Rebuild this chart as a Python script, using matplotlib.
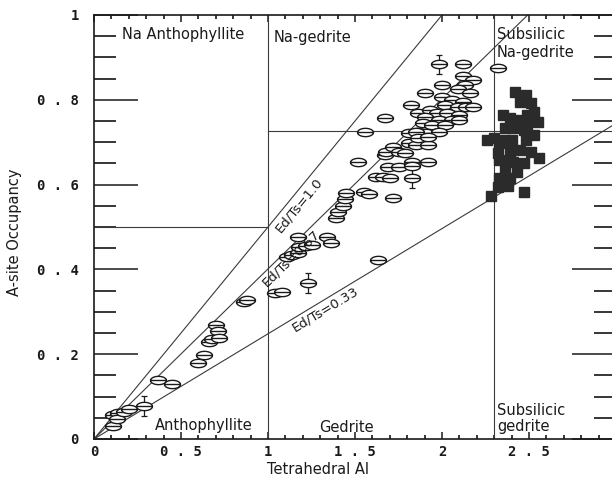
import numpy as np
import matplotlib
matplotlib.use("Agg")
import matplotlib.pyplot as plt
from matplotlib.path import Path
from matplotlib.ticker import MultipleLocator, FixedLocator

# A-site occupancy vs tetrahedral Al
open_x = [0.11, 0.11, 0.14, 0.13, 0.17, 0.20, 0.29, 0.37, 0.45, 0.60, 0.63, 0.66, 0.68, 0.70, 0.71, 0.72,
          0.86, 0.88, 1.04, 1.08, 1.23, 1.63,
          1.11, 1.14, 1.17, 1.17, 1.18, 1.22, 1.25, 1.34, 1.36, 1.39, 1.40, 1.43, 1.44, 1.45,
          1.52, 1.55, 1.58, 1.62, 1.66, 1.70, 1.72, 1.83, 1.67, 1.68, 1.72, 1.75, 1.79,
          1.69, 1.75, 1.83, 1.83, 1.92, 1.81, 1.85, 1.92, 1.81, 1.86, 1.91, 1.56, 1.67,
          1.98, 2.12, 2.12, 2.18, 2.00, 2.13, 2.09, 2.16, 1.90, 2.00, 1.82, 2.06, 2.12, 2.02,
          2.09, 2.14, 2.18, 1.86, 1.93, 1.97, 2.03, 2.10, 1.90, 1.98, 2.06, 2.10, 1.89, 1.94,
          2.02, 1.85, 1.98, 1.86, 1.92, 2.32]
open_y = [0.031, 0.057, 0.061, 0.047, 0.064, 0.071, 0.078, 0.139, 0.130, 0.179, 0.198, 0.229, 0.236, 0.269, 0.255, 0.238,
          0.323, 0.328, 0.344, 0.347, 0.368, 0.422,
          0.429, 0.434, 0.439, 0.476, 0.453, 0.455, 0.458, 0.476, 0.462, 0.521, 0.535, 0.550, 0.566, 0.580,
          0.653, 0.583, 0.578, 0.618, 0.618, 0.616, 0.568, 0.616, 0.670, 0.677, 0.689, 0.677, 0.675,
          0.642, 0.642, 0.653, 0.644, 0.653, 0.698, 0.693, 0.693, 0.722, 0.724, 0.722, 0.724, 0.757,
          0.884, 0.884, 0.856, 0.847, 0.835, 0.835, 0.825, 0.816, 0.816, 0.807, 0.788, 0.800, 0.795, 0.788,
          0.783, 0.783, 0.783, 0.769, 0.776, 0.769, 0.769, 0.764, 0.759, 0.752, 0.752, 0.752, 0.745, 0.741,
          0.741, 0.724, 0.724, 0.710, 0.712, 0.875]

# the few analyses drawn with a vertical error bar
err_x = [0.29, 1.23, 1.98, 1.83]
err_y = [0.078, 0.368, 0.884, 0.616]
err_dy = [0.024, 0.024, 0.022, 0.025]

# filled squares (subsilicic gedrites)
sq_x = [2.42, 2.48, 2.45, 2.51, 2.53, 2.49, 2.55, 2.49, 2.35, 2.39, 2.36, 2.42, 2.47, 2.30, 2.26, 2.33,
        2.40, 2.48, 2.53, 2.39, 2.45, 2.51, 2.56, 2.33, 2.41, 2.47, 2.36, 2.43, 2.33, 2.39, 2.32, 2.38,
        2.28, 2.47, 2.32, 2.36, 2.45, 2.39]
sq_y = [0.818, 0.811, 0.795, 0.792, 0.771, 0.764, 0.748, 0.741, 0.764, 0.757, 0.733, 0.733, 0.729, 0.710, 0.705, 0.698,
        0.705, 0.705, 0.717, 0.682, 0.682, 0.677, 0.663, 0.658, 0.653, 0.651, 0.634, 0.630, 0.616, 0.616, 0.594, 0.597,
        0.573, 0.583, 0.675, 0.705, 0.752, 0.658]

# Ed/Ts reference lines through the origin
ratios = [1.0, 0.67, 0.33]
ratio_labels = ["Ed/Ts=1.0", "Ed/Ts=0.67", "Ed/Ts=0.33"]
label_x = [1.18, 1.13, 1.33]
label_y = [0.552, 0.427, 0.307]

x_ticks = [0, 0.5, 1, 1.5, 2, 2.5, 3]
x_ticklabels = ["0", "0 . 5", "1", "1 . 5", "2", "2 . 5", "3"]
y_ticks = [0, 0.2, 0.4, 0.6, 0.8, 1]
y_ticklabels = ["0", "0 . 2", "0 . 4", "0 . 6", "0 . 8", "1"]

ink = "#1a1a1a"
thin = "#3a3a3a"

fig = plt.figure(figsize=(6.12, 4.83), dpi=100)
ax = fig.add_axes([94 / 612, 44 / 483, 522 / 612, 424 / 483])
ax.set_xlim(0, 3)
ax.set_ylim(0, 1)

# field boundaries
ax.plot([1, 1], [0, 1], color=thin, lw=0.8)
ax.plot([2.3, 2.3], [0, 1], color=thin, lw=0.8)
ax.plot([0, 1], [0.5, 0.5], color=thin, lw=0.8)
ax.plot([1, 3], [0.727, 0.727], color=thin, lw=0.8)

xx = np.array([0, 3.2])
for r, lab, lx, ly in zip(ratios, ratio_labels, label_x, label_y):
    slope = r / (1 + r)
    ax.plot(xx, slope * xx, color=thin, lw=0.8)
    ax.text(lx, ly, lab, rotation=np.degrees(np.arctan(slope)), transform_rotates_text=True,
            rotation_mode="anchor", ha="center", va="center", fontsize=9.6, color=ink,
            family="DejaVu Sans")

# ellipse marker with a horizontal bar through it
t = np.linspace(0, 2 * np.pi, 41)
verts = list(zip(np.cos(t), 0.52 * np.sin(t))) + [(-1, 0), (1, 0)]
codes = [Path.MOVETO] + [Path.LINETO] * 39 + [Path.CLOSEPOLY] + [Path.MOVETO, Path.LINETO]
ell = Path(verts, codes)

ax.errorbar(err_x, err_y, yerr=err_dy, fmt="none", ecolor=ink, elinewidth=0.9, capsize=2.5, capthick=0.9)
ax.plot(open_x, open_y, ls="none", marker=ell, ms=11.5, mfc="white", mec=ink, mew=1.0)

ax.plot(sq_x, sq_y, ls="none", marker="s", ms=7.8, mfc="#2b2b2b", mec="#2b2b2b")

# field names
fs = 10.5
ax.text(0.16, 0.953, "Na Anthophyllite", fontsize=fs, va="center", ha="left", color=ink)
ax.text(1.03, 0.946, "Na-gedrite", fontsize=fs, va="center", ha="left", color=ink)
ax.text(2.315, 0.972, "Subsilicic\nNa-gedrite", fontsize=fs, va="top", ha="left", color=ink, linespacing=1.25)
ax.text(0.35, 0.033, "Anthophyllite", fontsize=fs, va="center", ha="left", color=ink)
ax.text(1.293, 0.028, "Gedrite", fontsize=fs, va="center", ha="left", color=ink)
ax.text(2.315, 0.012, "Subsilicic\ngedrite", fontsize=fs, va="bottom", ha="left", color=ink, linespacing=1.1)

# axes and ticks, all pointing inward
for s in ax.spines.values():
    s.set_linewidth(1.2)
    s.set_color(ink)

ax.xaxis.set_major_locator(FixedLocator(x_ticks))
ax.xaxis.set_minor_locator(MultipleLocator(0.1))
ax.yaxis.set_major_locator(FixedLocator(y_ticks))
ax.yaxis.set_minor_locator(MultipleLocator(0.05))
ax.set_xticklabels(x_ticklabels, family="DejaVu Sans Mono", fontweight="bold", fontsize=10)
ax.set_yticklabels(y_ticklabels, family="DejaVu Sans Mono", fontweight="bold", fontsize=10)

ax.tick_params(axis="x", which="major", direction="in", length=5, width=1.1, top=True, pad=4, colors=ink)
ax.tick_params(axis="x", which="minor", direction="in", length=3, width=1.1, top=True)
ax.tick_params(axis="y", which="major", direction="in", length=32, width=1.1, right=True, pad=11, colors=ink)
ax.tick_params(axis="y", which="minor", direction="in", length=16, width=1.1, right=True)

fig.text(318 / 612, 1 - 470 / 483, "Tetrahedral Al", ha="center", va="center", fontsize=10.5, color=ink)
fig.text(15 / 612, 1 - 232 / 483, "A-site Occupancy", ha="center", va="center", rotation=90,
         fontsize=10.5, color=ink)

fig.savefig("out.png", dpi=100)
